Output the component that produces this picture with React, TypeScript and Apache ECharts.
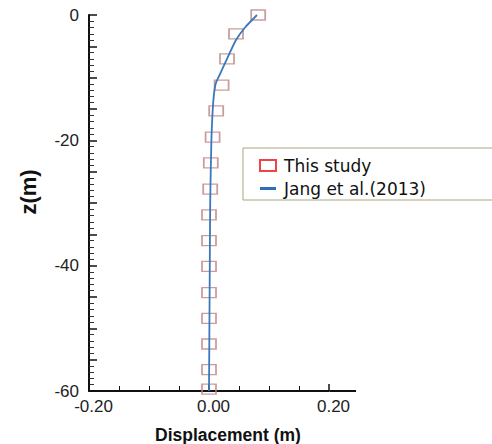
import React, { useEffect, useRef } from "react";
import * as echarts from "echarts";

// Jang et al. (2013) curve: displacement (m) vs depth z (m)
const jangX = [0.08, 0.06, 0.045, 0.03, 0.018, 0.011, 0.007, 0.004, 0.002, 0.001, 0.0];
const jangZ = [0, -2, -4, -7, -9.5, -11, -14, -20, -30, -45, -60];

// This study: markers
const studyX = [0.082, 0.045, 0.03, 0.021, 0.012, 0.006, 0.003, 0.002, 0.0, 0.0, 0.0, 0.0, 0.0, 0.0, 0.0, 0.0];
const studyZ = [0, -3, -7, -11.2, -15.3, -19.5, -23.6, -27.8, -31.9, -36, -40.1, -44.3, -48.4, -52.5, -56.6, -59.7];

const xTicks = [-0.2, 0, 0.2];
const yLabelStep = 20;

export default function App() {
  const ref = useRef<HTMLDivElement>(null);
  useEffect(() => {
    document.body.style.margin = "0";
    const chart = echarts.init(ref.current!, null, { renderer: "svg" });
    const axisFont = "'Liberation Sans', Arial, sans-serif";
    const legendFont = "'DejaVu Sans', sans-serif";
    chart.setOption({
      animation: false,
      backgroundColor: "#ffffff",
      grid: { left: 89, right: 163, top: 15, bottom: 53, containLabel: false },
      xAxis: {
        type: "value",
        min: xTicks[0],
        max: xTicks[xTicks.length - 1],
        interval: 0.2,
        axisLine: { show: true, onZero: false, lineStyle: { color: "#111", width: 2 } },
        axisTick: { show: true, inside: true, length: 7, lineStyle: { color: "#111", width: 1.5 } },
        minorTick: { show: true, splitNumber: 4, length: 5, lineStyle: { color: "#111", width: 1 } },
        axisLabel: {
          fontFamily: axisFont,
          fontSize: 17,
          color: "#222",
          margin: 7,
          padding: [0, 0, 0, 9],
          formatter: (v: number) => v.toFixed(2),
        },
        splitLine: { show: false },
        minorSplitLine: { show: false },
      },
      yAxis: {
        type: "value",
        min: -60,
        max: 0,
        interval: 5,
        axisLine: { show: true, onZero: false, lineStyle: { color: "#111", width: 2 } },
        axisTick: { show: true, inside: true, length: 8, lineStyle: { color: "#111", width: 1.5 } },
        minorTick: { show: true, splitNumber: 5, length: 5, lineStyle: { color: "#333", width: 1 } },
        axisLabel: {
          fontFamily: axisFont,
          fontSize: 17,
          color: "#222",
          margin: 10,
          formatter: (v: number) => (Math.round(v) % yLabelStep === 0 ? String(Math.round(v)) : ""),
        },
        splitLine: { show: false },
        minorSplitLine: { show: false },
      },
      legend: {
        orient: "vertical",
        left: 254,
        top: 152,
        itemWidth: 16,
        itemHeight: 11,
        itemGap: 6,
        textStyle: { fontFamily: legendFont, fontSize: 17, color: "#111", padding: [0, 0, 0, 3] },
        data: [
          {
            name: "This study",
            icon: "rect",
            itemStyle: { color: "rgba(255,255,255,0)", borderColor: "#e8141c", borderWidth: 2 },
          },
          {
            name: "Jang et al.(2013)",
            icon: "path://M0,0 L16,0 L16,3 L0,3 Z",
            itemStyle: { color: "#2a6fb8", borderWidth: 0 },
            lineStyle: { width: 0, opacity: 0 },
          },
        ],
      },
      graphic: [
        {
          type: "rect",
          shape: { x: 243, y: 148, width: 260, height: 52 },
          style: { fill: "#ffffff", stroke: "#a9a67a", lineWidth: 1 },
          z: 0,
        },
        {
          type: "line",
          shape: { x1: 330, y1: 391, x2: 356, y2: 391 },
          style: { stroke: "#111", lineWidth: 2 },
        },
        {
          type: "text",
          x: 28,
          y: 192,
          rotation: Math.PI / 2,
          style: {
            text: "z(m)",
            fontFamily: axisFont,
            fontWeight: "bold",
            fontSize: 22,
            fill: "#111",
            textAlign: "center",
            textVerticalAlign: "middle",
          },
        },
        {
          type: "text",
          x: 228,
          y: 435,
          style: {
            text: "Displacement (m)",
            fontFamily: axisFont,
            fontWeight: "bold",
            fontSize: 17.5,
            fill: "#111",
            textAlign: "center",
            textVerticalAlign: "middle",
          },
        },
      ],
      series: [
        {
          name: "Jang et al.(2013)",
          type: "line",
          data: jangX.map((x, i) => [x, jangZ[i]]),
          symbol: "none",
          smooth: 0.2,
          lineStyle: { color: "#3b78bb", width: 1.8 },
          itemStyle: { color: "#3b78bb" },
          z: 3,
        },
        {
          name: "This study",
          type: "scatter",
          data: studyX.map((x, i) => [x, studyZ[i]]),
          symbol: "rect",
          symbolSize: [14, 10],
          itemStyle: { color: "rgba(255,255,255,0)", borderColor: "#bd8585", borderWidth: 1.5 },
          z: 2,
        },
      ],
    });
    return () => chart.dispose();
  }, []);
  return <div ref={ref} style={{ width: 492, height: 444 }} />;
}
